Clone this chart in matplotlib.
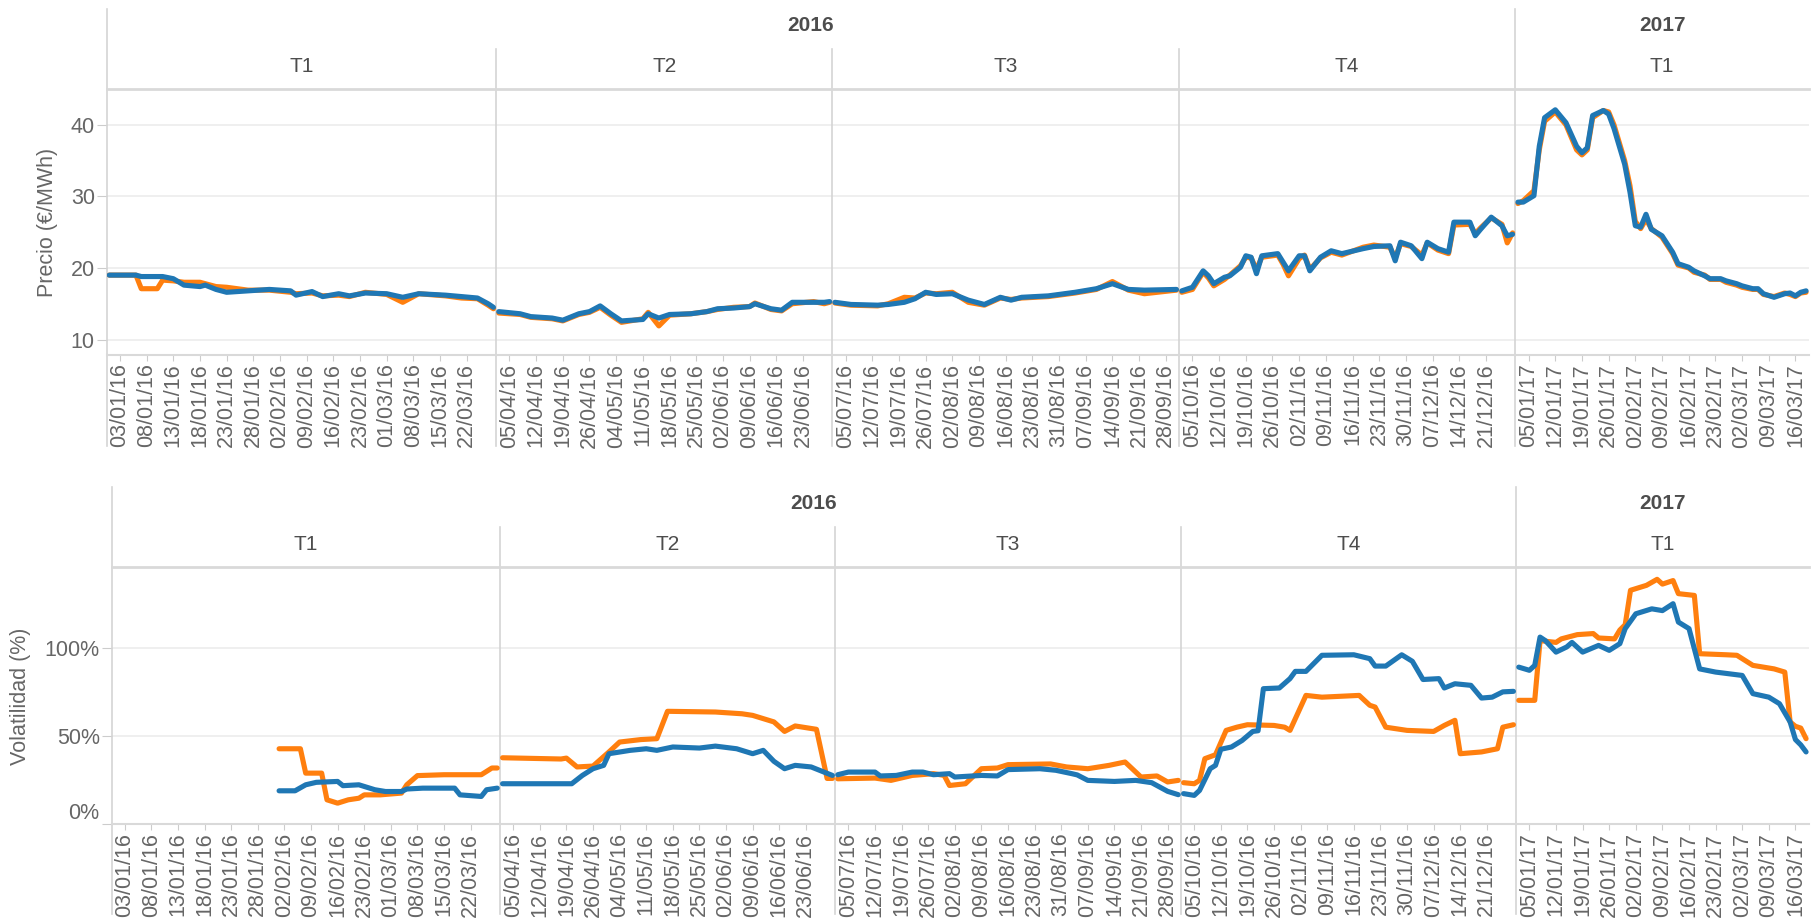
import numpy as np
import matplotlib.pyplot as plt
from matplotlib.transforms import blended_transform_factory
from matplotlib.ticker import FuncFormatter

plt.rcParams['font.family'] = ['Liberation Sans', 'DejaVu Sans']

# paneles (año / trimestre) y numero de dias de cada uno
trimestres = ['T1', 'T2', 'T3', 'T4', 'T1']
anios = ['2016', '2016', '2016', '2016', '2017']
n_dias = [73, 63, 65, 63, 55]
primer_dia_etiqueta = [2, 2, 2, 2, 2]

fechas_t1_16 = ['03/01/16', '08/01/16', '13/01/16', '18/01/16', '23/01/16', '28/01/16', '02/02/16',
                '09/02/16', '16/02/16', '23/02/16', '01/03/16', '08/03/16', '15/03/16', '22/03/16']
fechas_t2_16 = ['05/04/16', '12/04/16', '19/04/16', '26/04/16', '04/05/16', '11/05/16', '18/05/16',
                '25/05/16', '02/06/16', '09/06/16', '16/06/16', '23/06/16']
fechas_t3_16 = ['05/07/16', '12/07/16', '19/07/16', '26/07/16', '02/08/16', '09/08/16', '16/08/16',
                '23/08/16', '31/08/16', '07/09/16', '14/09/16', '21/09/16', '28/09/16']
fechas_t4_16 = ['05/10/16', '12/10/16', '19/10/16', '26/10/16', '02/11/16', '09/11/16', '16/11/16',
                '23/11/16', '30/11/16', '07/12/16', '14/12/16', '21/12/16']
fechas_t1_17 = ['05/01/17', '12/01/17', '19/01/17', '26/01/17', '02/02/17', '09/02/17', '16/02/17',
                '23/02/17', '02/03/17', '09/03/17', '16/03/17']
fechas = [fechas_t1_16, fechas_t2_16, fechas_t3_16, fechas_t4_16, fechas_t1_17]

# ---- Precio (EUR/MWh) ----
dias_p_t1_16 = [0, 5, 6, 9, 10, 12, 14, 17, 18, 20, 22, 26, 30, 34, 35, 38, 40, 43, 45, 48, 52, 55, 58, 63, 66, 69, 71, 72]
azul_p_t1_16 = [19.0, 19.0, 18.8, 18.8, 18.8, 18.5, 17.6, 17.4, 17.6, 17.0, 16.6, 16.8, 17.0, 16.8, 16.2, 16.7,
                16.0, 16.4, 16.1, 16.5, 16.4, 15.9, 16.4, 16.2, 16.0, 15.8, 15.0, 14.5]
naranja_p_t1_16 = [19.0, 19.0, 17.1, 17.1, 18.3, 18.2, 18.0, 18.0, 17.8, 17.4, 17.3, 16.9, 16.9, 16.6, 16.4, 16.5,
                   16.1, 16.2, 16.0, 16.6, 16.3, 15.2, 16.4, 16.1, 15.8, 15.7, 14.8, 14.3]

dias_p_t2_16 = [0, 4, 6, 10, 12, 15, 17, 19, 21, 23, 27, 28, 30, 32, 36, 39, 41, 44, 47, 48, 51, 53, 55, 59, 61, 62]
azul_p_t2_16 = [13.9, 13.6, 13.2, 13.0, 12.7, 13.6, 13.9, 14.7, 13.6, 12.6, 12.8, 13.6, 13.0, 13.5, 13.6, 13.9,
                14.3, 14.4, 14.6, 15.0, 14.3, 14.1, 15.2, 15.2, 15.2, 15.3]
naranja_p_t2_16 = [13.7, 13.5, 13.1, 12.9, 12.6, 13.5, 13.8, 14.5, 13.4, 12.4, 12.9, 13.8, 11.9, 13.4, 13.6, 13.9,
                   14.2, 14.5, 14.6, 15.1, 14.2, 14.0, 15.0, 15.3, 15.0, 15.2]

dias_p_t3_16 = [0, 3, 8, 10, 13, 15, 17, 19, 22, 25, 28, 31, 33, 35, 40, 45, 49, 52, 55, 58, 64]
azul_p_t3_16 = [15.2, 14.9, 14.8, 14.9, 15.2, 15.7, 16.6, 16.3, 16.4, 15.5, 14.9, 15.9, 15.5, 15.9, 16.1, 16.6,
                17.1, 17.8, 17.0, 16.9, 17.0]
naranja_p_t3_16 = [15.1, 14.8, 14.7, 15.0, 15.9, 15.8, 16.5, 16.4, 16.6, 15.2, 14.8, 15.8, 15.6, 15.8, 16.0, 16.5,
                   17.0, 18.1, 16.9, 16.4, 16.9]

dias_p_t4_16 = [0, 2, 4, 5, 6, 8, 9, 11, 12, 13, 14, 15, 18, 19, 20, 22, 23, 24, 26, 28, 30, 34, 36, 39, 40,
                41, 43, 45, 46, 48, 50, 51, 54, 55, 56, 58, 60, 61, 62]
azul_p_t4_16 = [16.8, 17.3, 19.6, 18.9, 17.8, 18.7, 18.9, 20.1, 21.7, 21.5, 19.2, 21.7, 22.0, 20.8, 19.6, 21.7,
                21.7, 19.6, 21.5, 22.4, 22.0, 22.7, 23.0, 23.1, 21.0, 23.6, 23.1, 21.3, 23.6, 22.7, 22.2, 26.4,
                26.4, 24.5, 25.4, 27.1, 25.9, 24.5, 24.7]
naranja_p_t4_16 = [16.6, 17.0, 19.4, 18.6, 17.5, 18.4, 19.0, 20.3, 21.5, 21.4, 19.8, 21.5, 21.8, 20.5, 18.9, 21.3,
                   21.8, 19.8, 21.4, 22.2, 21.8, 22.9, 23.2, 22.9, 21.4, 23.4, 23.0, 21.8, 23.5, 22.5, 22.0, 26.0,
                   26.1, 24.8, 25.6, 27.0, 26.1, 23.5, 24.9]

dias_p_t1_17 = [0, 1, 3, 4, 5, 7, 9, 11, 12, 13, 14, 16, 17, 18, 19, 20, 21, 22, 23, 24, 25, 27, 29, 30, 32,
                33, 35, 36, 38, 39, 41, 42, 44, 45, 46, 48, 50, 51, 52, 53, 54]
azul_p_t1_17 = [29.2, 29.2, 30.1, 37.0, 41.0, 42.1, 40.3, 37.0, 36.1, 36.8, 41.3, 42.0, 41.5, 39.5, 37.0, 34.5,
                30.6, 25.9, 25.7, 27.5, 25.4, 24.5, 22.2, 20.6, 20.1, 19.6, 18.9, 18.5, 18.5, 18.2, 17.8, 17.5,
                17.1, 17.1, 16.4, 15.9, 16.4, 16.5, 16.1, 16.6, 16.8]
naranja_p_t1_17 = [29.0, 29.4, 30.8, 36.5, 40.5, 41.8, 40.0, 36.5, 35.8, 36.5, 41.0, 42.0, 41.8, 40.0, 37.5, 35.0,
                   31.5, 26.5, 25.5, 26.8, 25.5, 24.3, 22.0, 20.4, 20.0, 19.4, 19.0, 18.4, 18.4, 18.0, 17.6, 17.3,
                   17.0, 17.0, 16.3, 16.0, 16.5, 16.3, 16.0, 16.5, 16.6]

# ---- Volatilidad (%) ----
dias_vn_t1_16 = [31, 35, 36, 39, 40, 42, 44, 46, 47, 50, 54, 55, 57, 62, 69, 71, 72]
naranja_v_t1_16 = [42.8, 42.8, 29.0, 29.0, 13.9, 12.0, 13.9, 14.8, 16.7, 16.7, 17.7, 22.4, 27.6, 28.1, 28.1, 31.9, 31.9]
dias_va_t1_16 = [31, 34, 36, 38, 42, 43, 46, 49, 51, 54, 55, 58, 64, 65, 69, 70, 72]
azul_v_t1_16 = [19.0, 19.0, 22.4, 23.8, 24.3, 21.9, 22.4, 19.6, 18.6, 18.6, 20.0, 20.5, 20.5, 16.7, 15.8, 19.6, 20.5]

dias_vn_t2_16 = [0, 11, 12, 14, 17, 20, 22, 26, 29, 31, 40, 45, 47, 51, 53, 55, 59, 61, 62]
naranja_v_t2_16 = [37.7, 37.0, 37.5, 32.5, 33.0, 41.0, 46.6, 48.0, 48.5, 64.0, 63.6, 62.6, 61.7, 58.0, 52.6, 55.7,
                   53.8, 26.0, 26.0]
dias_va_t2_16 = [0, 13, 15, 17, 19, 20, 24, 27, 29, 32, 37, 40, 44, 47, 49, 51, 53, 55, 58, 62]
azul_v_t2_16 = [23.0, 23.0, 27.7, 31.5, 33.4, 40.0, 41.9, 42.8, 41.9, 43.8, 43.2, 44.3, 42.8, 40.0, 41.9, 35.7,
                31.5, 33.4, 32.5, 27.7]

dias_vn_t3_16 = [0, 7, 10, 14, 18, 20, 21, 24, 27, 30, 32, 40, 43, 47, 51, 54, 57, 60, 62, 64]
naranja_v_t3_16 = [25.8, 26.2, 24.9, 27.7, 28.7, 27.7, 22.0, 23.0, 31.5, 31.9, 33.8, 34.2, 32.5, 31.5, 33.4, 35.3,
                   26.8, 27.4, 24.0, 24.9]
dias_va_t3_16 = [0, 2, 7, 8, 11, 14, 16, 18, 21, 22, 27, 30, 32, 38, 41, 44, 45, 47, 52, 56, 59, 62, 64]
azul_v_t3_16 = [28.1, 29.6, 29.6, 27.4, 27.7, 29.6, 29.6, 28.1, 28.7, 26.8, 27.7, 27.4, 31.0, 31.5, 30.6, 28.7,
                28.0, 24.9, 24.3, 24.9, 23.6, 18.7, 16.8]

dias_vn_t4_16 = [0, 2, 3, 4, 6, 8, 10, 12, 17, 19, 20, 23, 26, 33, 35, 36, 38, 42, 47, 49, 51, 52, 56, 59, 60, 62]
naranja_v_t4_16 = [23.6, 23.0, 24.9, 37.2, 39.4, 53.2, 55.0, 56.4, 56.0, 55.0, 53.2, 73.0, 72.0, 73.0, 67.4, 66.4,
                   55.0, 53.2, 52.6, 56.0, 58.9, 40.0, 41.0, 42.8, 55.0, 56.4]
dias_va_t4_16 = [0, 2, 3, 5, 6, 7, 9, 11, 13, 14, 15, 18, 20, 21, 23, 26, 32, 35, 36, 38, 41, 43, 45, 48, 49, 51,
                 54, 56, 58, 60, 62]
azul_v_t4_16 = [17.4, 16.4, 19.2, 31.5, 33.4, 42.5, 43.8, 47.5, 52.6, 53.0, 76.8, 77.2, 82.5, 86.6, 86.6, 95.7,
                96.0, 93.8, 89.6, 89.6, 96.0, 92.3, 82.0, 82.5, 77.2, 79.6, 78.7, 71.5, 72.0, 75.0, 75.3]

dias_vn_t1_17 = [0, 3, 4, 7, 8, 11, 14, 15, 18, 19, 20, 21, 24, 26, 27, 29, 30, 33, 34, 39, 41, 44, 48, 50, 51,
                 52, 53, 54]
naranja_v_t1_17 = [70.2, 70.2, 104.0, 103.0, 105.0, 107.4, 108.0, 105.5, 105.0, 110.0, 113.0, 132.5, 135.3, 138.7,
                   136.0, 138.0, 130.6, 129.6, 96.6, 96.0, 95.7, 90.0, 88.0, 86.2, 58.0, 55.5, 54.5, 48.5]
dias_va_t1_17 = [0, 2, 3, 4, 5, 7, 9, 10, 12, 15, 17, 19, 20, 22, 25, 27, 29, 30, 32, 34, 37, 42, 44, 47, 49, 51,
                 52, 53, 54]
azul_v_t1_17 = [89.0, 87.2, 90.0, 106.0, 104.0, 97.5, 100.4, 103.0, 97.5, 101.3, 98.5, 102.3, 110.8, 119.2, 122.0,
                121.0, 124.9, 114.5, 110.8, 88.0, 86.2, 84.3, 74.0, 72.0, 68.3, 58.0, 48.0, 45.0, 41.0]

precio = [
    (dias_p_t1_16, naranja_p_t1_16, dias_p_t1_16, azul_p_t1_16),
    (dias_p_t2_16, naranja_p_t2_16, dias_p_t2_16, azul_p_t2_16),
    (dias_p_t3_16, naranja_p_t3_16, dias_p_t3_16, azul_p_t3_16),
    (dias_p_t4_16, naranja_p_t4_16, dias_p_t4_16, azul_p_t4_16),
    (dias_p_t1_17, naranja_p_t1_17, dias_p_t1_17, azul_p_t1_17),
]
volatilidad = [
    (dias_vn_t1_16, naranja_v_t1_16, dias_va_t1_16, azul_v_t1_16),
    (dias_vn_t2_16, naranja_v_t2_16, dias_va_t2_16, azul_v_t2_16),
    (dias_vn_t3_16, naranja_v_t3_16, dias_va_t3_16, azul_v_t3_16),
    (dias_vn_t4_16, naranja_v_t4_16, dias_va_t4_16, azul_v_t4_16),
    (dias_vn_t1_17, naranja_v_t1_17, dias_va_t1_17, azul_v_t1_17),
]

NARANJA = '#FF7F0E'
AZUL = '#1F77B4'
GRIS_LINEA = '#d4d4d4'
GRIS_TEXTO = '#666666'
inicio = np.concatenate([[0], np.cumsum(n_dias)])
total = inicio[-1]

fig = plt.figure(figsize=(18.16, 9.18), dpi=100)


def panel(ax, series, escala, y_anio, y_trim, y_div, y_tope, y_base):
    tr = blended_transform_factory(ax.transData, fig.transFigure)
    for i, (dn, vn, da, va) in enumerate(series):
        x0 = inicio[i] + 0.5
        ax.plot(x0 + np.array(dn), np.array(vn) * escala, color=NARANJA, lw=3.7,
                solid_joinstyle='round', solid_capstyle='round', zorder=3)
        ax.plot(x0 + np.array(da), np.array(va) * escala, color=AZUL, lw=3.7,
                solid_joinstyle='round', solid_capstyle='round', zorder=4)
        # cabecera de trimestre
        ax.text(inicio[i] + n_dias[i] / 2, y_trim, trimestres[i], transform=tr, ha='center', va='center',
                fontsize=15, color='#4d4d4d')
        if i > 0:
            top = y_tope if anios[i] != anios[i - 1] else y_div
            ax.plot([inicio[i], inicio[i]], [y_base, top], transform=tr, color=GRIS_LINEA, lw=1.2,
                    clip_on=False)
    # linea izquierda
    ax.plot([0, 0], [y_base, y_tope], transform=tr, color=GRIS_LINEA, lw=1.2, clip_on=False)
    # cabecera de año
    for anio in sorted(set(anios)):
        idx = [i for i, a in enumerate(anios) if a == anio]
        xa = (inicio[idx[0]] + inicio[idx[-1] + 1]) / 2
        ax.text(xa, y_anio, anio, transform=tr, ha='center', va='center', fontsize=15,
                fontweight='bold', color='#4d4d4d')

    # ejes y etiquetas de fecha
    pos, etq = [], []
    for i, f in enumerate(fechas):
        for k, e in enumerate(f):
            pos.append(inicio[i] + primer_dia_etiqueta[i] + 5 * k + 0.5)
            etq.append(e)
    ax.set_xticks(pos)
    ax.set_xticklabels(etq, rotation=90, fontsize=15.5, color=GRIS_TEXTO)
    ax.set_xlim(0, total)
    for s in ['left', 'right']:
        ax.spines[s].set_visible(False)
    ax.spines['top'].set_color('#d9d9d9')
    ax.spines['top'].set_linewidth(2)
    ax.spines['bottom'].set_color('#d9d9d9')
    ax.spines['bottom'].set_linewidth(1.5)
    ax.tick_params(axis='x', length=4, color='#cccccc', pad=2)
    ax.tick_params(axis='y', length=7, color='#cccccc', labelsize=15.5, labelcolor=GRIS_TEXTO, pad=1.5)
    ax.yaxis.grid(True, color='#ececec', lw=1.2)
    ax.set_axisbelow(True)


ax1 = fig.add_axes([0.0587, 0.613, 0.9373, 0.290])
panel(ax1, precio, 1.0, 0.972, 0.928, 0.947, 0.990, 0.514)
ax1.set_ylim(7.8, 45)
ax1.set_yticks([10, 20, 30, 40])
fig.text(0.026, 0.758, 'Precio (€/MWh)', rotation=90, ha='center', va='center', fontsize=15.5, color=GRIS_TEXTO)

ax2 = fig.add_axes([0.0614, 0.102, 0.9346, 0.280])
panel(ax2, volatilidad, 0.01, 0.4515, 0.407, 0.426, 0.470, 0.004)
ax2.set_ylim(0, 1.455)
ax2.set_yticks([0, 0.5, 1.0])
ax2.yaxis.set_major_formatter(FuncFormatter(lambda v, p: f'{v * 100:.0f}%'))
ax2.yaxis.get_major_ticks()[0].label1.set_verticalalignment('bottom')
fig.text(0.0115, 0.242, 'Volatilidad (%)', rotation=90, ha='center', va='center', fontsize=15.5, color=GRIS_TEXTO)

fig.savefig('out.png', dpi=100, facecolor='white')
